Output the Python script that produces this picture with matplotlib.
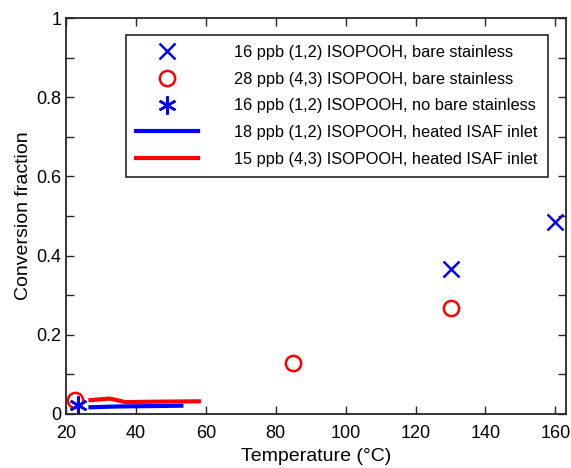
import numpy as np
import matplotlib.pyplot as plt
from matplotlib.ticker import MultipleLocator

plt.rcParams['font.family'] = ['Liberation Sans', 'DejaVu Sans']

# bare stainless, (1,2) ISOPOOH
x12_bare = [130, 160]
y12_bare = [0.365, 0.485]
# bare stainless, (4,3) ISOPOOH
x43_bare = [22.5, 85, 130]
y43_bare = [0.035, 0.128, 0.267]
# no bare stainless
x12_nobare = [23.5]
y12_nobare = [0.023]
# heated ISAF inlet
x12_heat = [27, 35, 45, 53]
y12_heat = [0.017, 0.019, 0.020, 0.021]
x43_heat = [27, 32.5, 37, 45, 58]
y43_heat = [0.035, 0.039, 0.030, 0.031, 0.032]

labels = [
    "16 ppb (1,2) ISOPOOH, bare stainless",
    "28 ppb (4,3) ISOPOOH, bare stainless",
    "16 ppb (1,2) ISOPOOH, no bare stainless",
    "18 ppb (1,2) ISOPOOH, heated ISAF inlet",
    "15 ppb (4,3) ISOPOOH, heated ISAF inlet",
]
yticks = [0, 0.2, 0.4, 0.6, 0.8, 1]
ytick_labels = ['0', '0.2', '0.4', '0.6', '0.8', '1']

fig = plt.figure(figsize=(5.71, 4.68), dpi=100)
ax = fig.add_axes([0.1156, 0.1154, 0.8754, 0.8461])

ax.plot(x12_bare, y12_bare, 'x', color='blue', ms=11, mew=1.8, ls='none', label=labels[0])
ax.plot(x43_bare, y43_bare, 'o', color='red', mfc='none', ms=11, mew=1.8, ls='none', label=labels[1])
ax.plot(x12_nobare, y12_nobare, marker=(6, 2, 0), color='blue', ms=13, mew=1.8, ls='none', label=labels[2])
ax.plot(x12_heat, y12_heat, '-', color='blue', lw=3, label=labels[3])
ax.plot(x43_heat, y43_heat, '-', color='red', lw=3, label=labels[4])

ax.set_xlim(20, 163)
ax.set_ylim(0, 1)
ax.set_xticks(np.arange(20, 161, 20))
ax.set_yticks(yticks, ytick_labels)
ax.yaxis.set_minor_locator(MultipleLocator(0.1))
ax.tick_params(which='both', direction='in', top=True, right=True, labelsize=13, color='0.15')
ax.tick_params(which='both', length=6, width=1)
ax.tick_params(axis='x', pad=8)
for s in ax.spines.values():
    s.set_color('0.15')
    s.set_linewidth(1.3)

ax.set_xlabel("Temperature (°C)", fontsize=14, labelpad=4)
ax.set_ylabel("Conversion fraction", fontsize=14, labelpad=3)

leg = ax.legend(loc='upper right', bbox_to_anchor=(0.98, 0.978),
                fontsize=11.8, handlelength=3.8, handletextpad=2.2, labelspacing=0.72,
                fancybox=False, framealpha=1, edgecolor='0.15', borderpad=0.6)
leg.get_frame().set_linewidth(1.2)

fig.savefig("out.png", dpi=100)
